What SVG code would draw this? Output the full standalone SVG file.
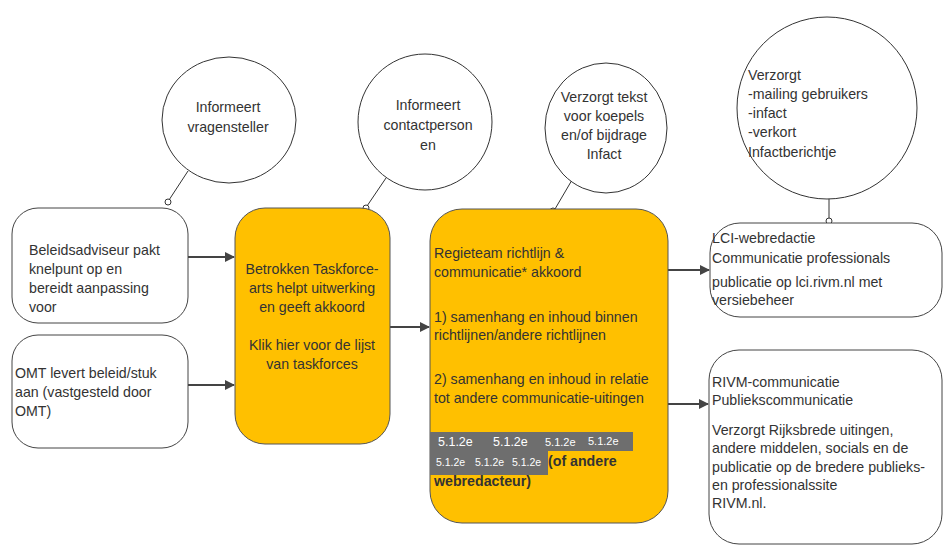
<svg xmlns="http://www.w3.org/2000/svg" width="943" height="546" viewBox="0 0 943 546">
<defs>
<style>
.t{font-family:"Liberation Sans","Open Sans",Arial,sans-serif;font-size:14.2px;fill:#333}
.c{text-anchor:middle}
.b{font-weight:bold}
.w{fill:#fff;font-family:"Liberation Sans",Arial,sans-serif}
.box{fill:#fff;stroke:#444;stroke-width:1}
.or{fill:#FFC000;stroke:#555;stroke-width:1}
.bub{fill:#fff;stroke:#333;stroke-width:1}
.tie{stroke:#333;stroke-width:1;fill:none}
.dot{fill:#fff;stroke:#333;stroke-width:1}
.arr{stroke:#444;stroke-width:2;fill:none;marker-end:url(#ah)}
.red{fill:#6e6e6e}
</style>
<marker id="ah" viewBox="0 0 10 10" refX="9" refY="5" markerWidth="5" markerHeight="5" orient="auto" markerUnits="strokeWidth">
<path d="M0,0 L10,5 L0,10 z" fill="#444"/>
</marker>
</defs>
<rect width="943" height="546" fill="#fff"/>

<g id="connectors">
<line class="arr" x1="188" y1="257" x2="234" y2="257"/>
<line class="arr" x1="188" y1="385" x2="234" y2="385"/>
<line class="arr" x1="390" y1="327" x2="429" y2="327"/>
<line class="arr" x1="668" y1="270" x2="709" y2="270"/>
<line class="arr" x1="668" y1="404" x2="708" y2="404"/>
<line class="tie" x1="188" y1="171" x2="169" y2="200"/>
<line class="tie" x1="386" y1="178" x2="367" y2="206"/>
<line class="tie" x1="572" y1="180" x2="555" y2="209"/>
<line class="tie" x1="829" y1="198" x2="829" y2="218"/>
</g>

<g id="bubble1">
<ellipse class="bub" cx="229" cy="120" rx="67" ry="63"/>
<text class="t c" x="228" y="112">Informeert</text>
<text class="t c" x="228" y="132">vragensteller</text>
<circle class="dot" cx="168" cy="202" r="3"/>
</g>

<g id="bubble2">
<ellipse class="bub" cx="425" cy="122" rx="67" ry="68"/>
<text class="t c" x="428" y="110">Informeert</text>
<text class="t c" x="428" y="130">contactperson</text>
<text class="t c" x="428" y="150">en</text>
<circle class="dot" cx="366" cy="208" r="3"/>
</g>

<g id="bubble3">
<ellipse class="bub" cx="606" cy="128" rx="61" ry="65"/>
<text class="t c" x="604" y="102">Verzorgt tekst</text>
<text class="t c" x="604" y="121">voor koepels</text>
<text class="t c" x="604" y="140">en/of bijdrage</text>
<text class="t c" x="604" y="159">Infact</text>
<circle class="dot" cx="553" cy="211" r="3"/>
</g>

<g id="bubble4">
<ellipse class="bub" cx="827" cy="108" rx="90" ry="91"/>
<text class="t" x="748" y="80">Verzorgt</text>
<text class="t" x="748" y="99">-mailing gebruikers</text>
<text class="t" x="748" y="118">-infact</text>
<text class="t" x="748" y="137">-verkort</text>
<text class="t" x="748" y="157">Infactberichtje</text>
<circle class="dot" cx="829" cy="221" r="3"/>
</g>

<g id="beleidsadviseur">
<rect class="box" x="12" y="208" width="176" height="115" rx="26"/>
<text class="t" x="29" y="255">Beleidsadviseur pakt</text>
<text class="t" x="29" y="274">knelpunt op en</text>
<text class="t" x="29" y="293">bereidt aanpassing</text>
<text class="t" x="29" y="312">voor</text>
</g>

<g id="omt">
<rect class="box" x="12" y="335" width="176" height="113" rx="26"/>
<text class="t" x="15" y="378">OMT levert beleid/stuk</text>
<text class="t" x="15" y="397">aan (vastgesteld door</text>
<text class="t" x="15" y="416">OMT)</text>
</g>

<g id="taskforce">
<rect class="or" x="235" y="208" width="155" height="236" rx="30"/>
<text class="t c" x="312" y="274">Betrokken Taskforce-</text>
<text class="t c" x="312" y="293">arts helpt uitwerking</text>
<text class="t c" x="312" y="312">en geeft akkoord</text>
<text class="t c" x="312" y="350">Klik hier voor de lijst</text>
<text class="t c" x="312" y="369">van taskforces</text>
</g>

<g id="regieteam">
<rect class="or" x="430" y="209" width="238" height="314" rx="32"/>
<text class="t" x="434" y="258">Regieteam richtlijn &amp;</text>
<text class="t" x="434" y="277">communicatie* akkoord</text>
<text class="t" x="434" y="322">1) samenhang en inhoud binnen</text>
<text class="t" x="434" y="340">richtlijnen/andere richtlijnen</text>
<text class="t" x="434" y="384">2) samenhang en inhoud in relatie</text>
<text class="t" x="434" y="403">tot andere communicatie-uitingen</text>
<rect class="red" x="430" y="432" width="203" height="19"/>
<rect class="red" x="430" y="450" width="118" height="25"/>
<text class="w" x="438" y="446" font-size="12.5">5.1.2e</text>
<text class="w" x="493" y="446" font-size="12.5">5.1.2e</text>
<text class="w" x="545" y="446" font-size="11">5.1.2e</text>
<text class="w" x="588" y="445" font-size="11">5.1.2e</text>
<text class="w" x="436" y="466" font-size="10.5">5.1.2e</text>
<text class="w" x="475" y="466" font-size="10.5">5.1.2e</text>
<text class="w" x="512" y="466" font-size="10.5">5.1.2e</text>
<text class="t b" x="548" y="466">(of andere</text>
<text class="t b" x="434" y="486">webredacteur)</text>
</g>

<g id="lci">
<rect class="box" x="710" y="223" width="232" height="94" rx="30"/>
<text class="t" x="712" y="243">LCI-webredactie</text>
<text class="t" x="712" y="263">Communicatie professionals</text>
<text class="t" x="712" y="287">publicatie op lci.rivm.nl met</text>
<text class="t" x="712" y="305">versiebeheer</text>
</g>

<g id="rivm">
<rect class="box" x="709" y="350" width="233" height="194" rx="30"/>
<text class="t" x="712" y="387">RIVM-communicatie</text>
<text class="t" x="712" y="405">Publiekscommunicatie</text>
<text class="t" x="712" y="435">Verzorgt Rijksbrede uitingen,</text>
<text class="t" x="712" y="453">andere middelen, socials en de</text>
<text class="t" x="712" y="472">publicatie op de bredere publieks-</text>
<text class="t" x="712" y="490">en professionalssite</text>
<text class="t" x="712" y="508">RIVM.nl.</text>
</g>
</svg>
